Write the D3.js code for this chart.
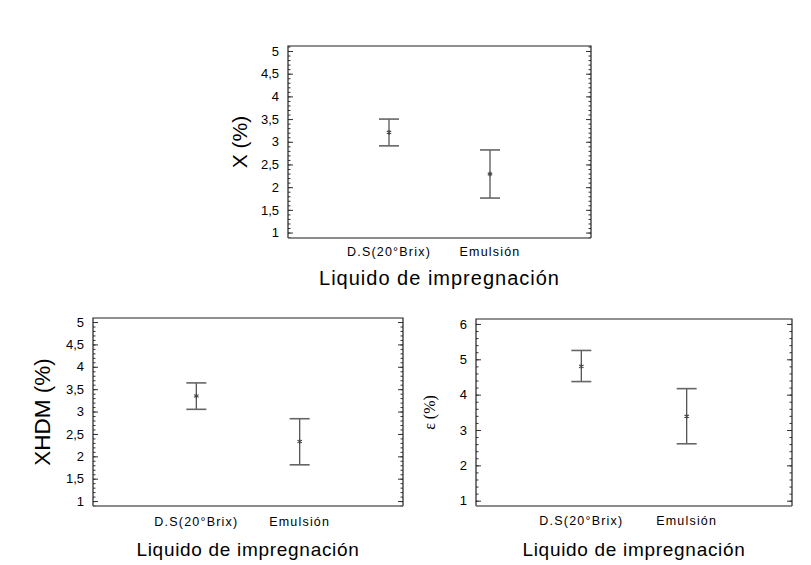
<!DOCTYPE html>
<html>
<head>
<meta charset="utf-8">
<script src="https://cdn.jsdelivr.net/npm/d3@7"></script>
<style>
  body { margin: 0; background: #fff; }
  svg text { font-family: "Liberation Sans", Arial, sans-serif; fill: #000; }
</style>
</head>
<body>
<div id="chart"></div>
<script>
// data
var categories = ["D.S(20°Brix)", "Emulsión"];

var xMean = [3.21, 2.29];
var xLow = [2.91, 1.76];
var xHigh = [3.50, 2.82];

var xhdmMean = [3.35, 2.33];
var xhdmLow = [3.05, 1.81];
var xhdmHigh = [3.64, 2.84];

var epsMean = [4.80, 3.39];
var epsLow = [4.37, 2.61];
var epsHigh = [5.25, 4.17];

var ticksHalf = [1, 1.5, 2, 2.5, 3, 3.5, 4, 4.5, 5];
var ticksOne = [1, 2, 3, 4, 5, 6];

var svg = d3.select("#chart").append("svg")
  .attr("width", 811)
  .attr("height", 565);

var loc = d3.formatLocale({ decimal: ",", thousands: ".", grouping: [3], currency: ["", ""] });
var fmt = loc.format("~g");

function drawPanel(p) {
  var g = svg.append("g");

  var y = d3.scaleLinear().domain(p.domain).range([p.bottom, p.top]);
  var x = d3.scalePoint().domain(categories).range([p.left, p.right]).padding(1);

  // minor ticks, both sides
  var minor = d3.range(p.minorFrom, p.domain[1], p.minorStep).map(v => +v.toFixed(2));
  g.append("g").attr("transform", `translate(${p.left},0)`)
    .call(d3.axisLeft(y).tickValues(minor).tickSize(-2.5).tickFormat(""));
  g.append("g").attr("transform", `translate(${p.right},0)`)
    .call(d3.axisRight(y).tickValues(minor).tickSize(-2.5).tickFormat(""));

  // major ticks
  g.append("g").attr("transform", `translate(${p.left},0)`)
    .call(d3.axisLeft(y).tickValues(p.ticks).tickSize(-5).tickPadding(9).tickFormat(fmt))
    .call(a => a.selectAll("text").attr("font-size", "13px"));
  g.append("g").attr("transform", `translate(${p.right},0)`)
    .call(d3.axisRight(y).tickValues(p.ticks).tickSize(-5).tickFormat(""));

  g.selectAll(".domain").remove();
  g.selectAll(".tick line").attr("stroke", "#333");

  // frame
  g.append("path")
    .attr("d", `M${p.left},${p.bottom}V${p.top}H${p.right}V${p.bottom}`)
    .attr("fill", "none").attr("stroke", "#222").attr("stroke-width", 1.2);
  g.append("line")
    .attr("x1", p.left).attr("x2", p.right)
    .attr("y1", p.bottom).attr("y2", p.bottom)
    .attr("stroke", "#666").attr("stroke-width", 1.6);

  // error bars
  var rows = categories.map((c, i) => ({ c: c, m: p.mean[i], lo: p.low[i], hi: p.high[i] }));
  var bars = g.selectAll(".bar").data(rows).enter().append("g");
  bars.append("line")
    .attr("x1", d => x(d.c)).attr("x2", d => x(d.c))
    .attr("y1", d => y(d.lo)).attr("y2", d => y(d.hi))
    .attr("stroke", "#555").attr("stroke-width", 1.3);
  ["lo", "hi"].forEach(function(k) {
    bars.append("line")
      .attr("x1", d => x(d.c) - 10).attr("x2", d => x(d.c) + 10)
      .attr("y1", d => y(d[k])).attr("y2", d => y(d[k]))
      .attr("stroke", "#666").attr("stroke-width", 1.6);
  });
  bars.append("path")
    .attr("transform", d => `translate(${x(d.c)},${y(d.m)})`)
    .attr("d", d3.symbol(d3.symbolAsterisk, 18))
    .attr("fill", "none").attr("stroke", "#444").attr("stroke-width", 1.1);

  // category labels
  g.selectAll(".cat").data(categories).enter().append("text")
    .attr("x", d => x(d)).attr("y", p.catY)
    .attr("text-anchor", "middle")
    .attr("font-size", "12.5px")
    .attr("letter-spacing", "1.2px")
    .text(d => d);

  // x title
  g.append("text")
    .attr("x", (p.left + p.right) / 2).attr("y", p.titleY)
    .attr("text-anchor", "middle")
    .attr("font-size", p.titleSize)
    .attr("letter-spacing", p.titleSpacing)
    .text("Liquido de impregnación");

  // y title
  g.append("text")
    .attr("transform", `translate(${p.yTitleX},${(p.top + p.bottom) / 2}) rotate(-90)`)
    .attr("text-anchor", "middle")
    .attr("font-size", p.yTitleSize)
    .style("font-family", p.yTitleFont)
    .text(p.yTitle);
}

drawPanel({
  left: 288, right: 591, top: 46, bottom: 238,
  domain: [0.88, 5.11], ticks: ticksHalf, minorFrom: 0.9, minorStep: 0.1,
  mean: xMean, low: xLow, high: xHigh,
  catY: 256, titleY: 285, titleSize: "20px", titleSpacing: "1px",
  yTitle: "X (%)", yTitleX: 247, yTitleSize: "21px", yTitleFont: "Liberation Sans, Arial, sans-serif"
});

drawPanel({
  left: 93, right: 403, top: 318, bottom: 506,
  domain: [0.89, 5.09], ticks: ticksHalf, minorFrom: 0.9, minorStep: 0.1,
  mean: xhdmMean, low: xhdmLow, high: xhdmHigh,
  catY: 526, titleY: 556, titleSize: "19px", titleSpacing: "0.7px",
  yTitle: "XHDM (%)", yTitleX: 50, yTitleSize: "22.5px", yTitleFont: "Liberation Sans, Arial, sans-serif"
});

drawPanel({
  left: 476, right: 792, top: 319, bottom: 506,
  domain: [0.85, 6.14], ticks: ticksOne, minorFrom: 1, minorStep: 0.2,
  mean: epsMean, low: epsLow, high: epsHigh,
  catY: 525, titleY: 556, titleSize: "19px", titleSpacing: "0.7px",
  yTitle: "ε (%)", yTitleX: 435, yTitleSize: "16px", yTitleFont: "Liberation Serif, Times New Roman, serif"
});
</script>
</body>
</html>
